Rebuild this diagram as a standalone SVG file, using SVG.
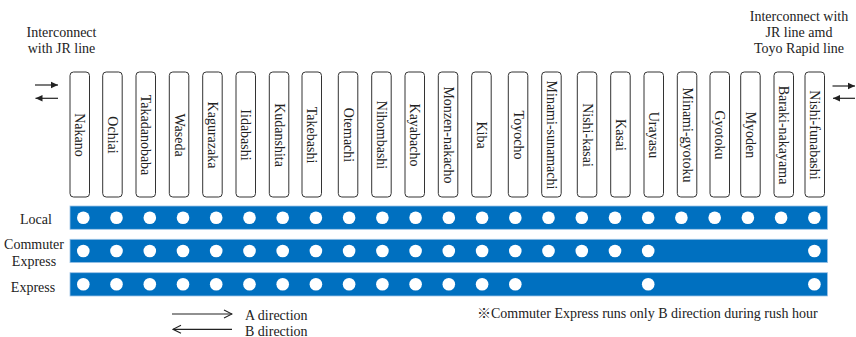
<svg xmlns="http://www.w3.org/2000/svg" width="856" height="337" viewBox="0 0 856 337">
<style>
text{font-family:"Liberation Serif","Noto Sans CJK JP",serif;font-size:14px;fill:#222}
.box{fill:#fff;stroke:#333;stroke-width:1}
.st{text-anchor:middle;dominant-baseline:central}
.band{fill:#0070C0;stroke:#9DC3E6;stroke-width:0.8}
.dot{fill:#fff}
.ln{stroke:#222;stroke-width:1.2;fill:none}
.mid{text-anchor:middle}
</style>
<defs>
<marker id="ah" markerWidth="8" markerHeight="8" refX="7" refY="4" orient="auto" markerUnits="userSpaceOnUse">
<path d="M0,0.8 L7,4 L0,7.2 Z" fill="#222"/>
</marker>
<marker id="oh" markerWidth="10" markerHeight="10" refX="9" refY="5" orient="auto" markerUnits="userSpaceOnUse">
<path d="M1,1 L9,5 L1,9" fill="none" stroke="#222" stroke-width="1.1"/>
</marker>
</defs>
<rect width="856" height="337" fill="#fff"/>

<g id="label-left">
<text class="mid" x="61.5" y="36.7">Interconnect</text>
<text class="mid" x="61.5" y="52.7">with JR line</text>
</g>
<g id="label-right">
<text class="mid" x="799" y="20.5">Interconnect with</text>
<text class="mid" x="799" y="36.5">JR line amd</text>
<text class="mid" x="799" y="52.5">Toyo Rapid line</text>
</g>

<g id="connectors">
<line class="ln" x1="35" y1="85" x2="58" y2="85" marker-end="url(#ah)"/>
<line class="ln" x1="58" y1="98.3" x2="35.5" y2="98.3" marker-end="url(#ah)"/>
<line class="ln" x1="832.5" y1="86" x2="855" y2="86" marker-end="url(#ah)"/>
<line class="ln" x1="855" y1="98.3" x2="833" y2="98.3" marker-end="url(#ah)"/>
<line class="ln" x1="172" y1="314" x2="232" y2="314" marker-end="url(#oh)"/>
<line class="ln" x1="232" y1="329.3" x2="173" y2="329.3" marker-end="url(#oh)"/>
</g>

<g id="stations">
<g id="st-nakano"><rect class="box" x="70" y="72" width="19.5" height="125" rx="3.5"/><text class="st" transform="translate(79.75,135) rotate(90)">Nakano</text></g>
<g id="st-ochiai"><rect class="box" x="102.7" y="72" width="19.5" height="125" rx="3.5"/><text class="st" transform="translate(112.45,135) rotate(90)">Ochiai</text></g>
<g id="st-takadanobaba"><rect class="box" x="136" y="72" width="19.5" height="125" rx="3.5"/><text class="st" transform="translate(145.75,135) rotate(90)">Takadanobaba</text></g>
<g id="st-waseda"><rect class="box" x="169.3" y="72" width="19.5" height="125" rx="3.5"/><text class="st" transform="translate(179.05,135) rotate(90)">Waseda</text></g>
<g id="st-kagurazaka"><rect class="box" x="202.7" y="72" width="19.5" height="125" rx="3.5"/><text class="st" transform="translate(212.45,135) rotate(90)">Kagurazaka</text></g>
<g id="st-iidabashi"><rect class="box" x="236" y="72" width="19.5" height="125" rx="3.5"/><text class="st" transform="translate(245.75,135) rotate(90)">Iidabashi</text></g>
<g id="st-kudanshita"><rect class="box" x="269.3" y="72" width="19.5" height="125" rx="3.5"/><text class="st" transform="translate(279.05,135) rotate(90)">Kudanshita</text></g>
<g id="st-takebashi"><rect class="box" x="302" y="72" width="19.5" height="125" rx="3.5"/><text class="st" transform="translate(311.75,135) rotate(90)">Takebashi</text></g>
<g id="st-otemachi"><rect class="box" x="338.3" y="72" width="19.5" height="125" rx="3.5"/><text class="st" transform="translate(348.05,135) rotate(90)">Otemachi</text></g>
<g id="st-nihombashi"><rect class="box" x="371.7" y="72" width="19.5" height="125" rx="3.5"/><text class="st" transform="translate(381.45,135) rotate(90)">Nihombashi</text></g>
<g id="st-kayabacho"><rect class="box" x="405" y="72" width="19.5" height="125" rx="3.5"/><text class="st" transform="translate(414.75,135) rotate(90)">Kayabacho</text></g>
<g id="st-monzen-nakacho"><rect class="box" x="438.3" y="72" width="19.5" height="125" rx="3.5"/><text class="st" transform="translate(448.05,135) rotate(90)">Monzen-nakacho</text></g>
<g id="st-kiba"><rect class="box" x="471.7" y="72" width="19.5" height="125" rx="3.5"/><text class="st" transform="translate(481.45,135) rotate(90)">Kiba</text></g>
<g id="st-toyocho"><rect class="box" x="508.3" y="72" width="19.5" height="125" rx="3.5"/><text class="st" transform="translate(518.05,135) rotate(90)">Toyocho</text></g>
<g id="st-minami-sunamachi"><rect class="box" x="541.7" y="72" width="19.5" height="125" rx="3.5"/><text class="st" transform="translate(551.45,135) rotate(90)">Minami-sunamachi</text></g>
<g id="st-nishi-kasai"><rect class="box" x="577.3" y="72" width="19.5" height="125" rx="3.5"/><text class="st" transform="translate(587.05,135) rotate(90)">Nishi-kasai</text></g>
<g id="st-kasai"><rect class="box" x="610.7" y="72" width="19.5" height="125" rx="3.5"/><text class="st" transform="translate(620.45,135) rotate(90)">Kasai</text></g>
<g id="st-urayasu"><rect class="box" x="644" y="72" width="19.5" height="125" rx="3.5"/><text class="st" transform="translate(653.75,135) rotate(90)">Urayasu</text></g>
<g id="st-minami-gyotoku"><rect class="box" x="677.3" y="72" width="19.5" height="125" rx="3.5"/><text class="st" transform="translate(687.05,135) rotate(90)">Minami-gyotoku</text></g>
<g id="st-gyotoku"><rect class="box" x="710" y="72" width="19.5" height="125" rx="3.5"/><text class="st" transform="translate(719.75,135) rotate(90)">Gyotoku</text></g>
<g id="st-myoden"><rect class="box" x="740.7" y="72" width="19.5" height="125" rx="3.5"/><text class="st" transform="translate(750.45,135) rotate(90)">Myoden</text></g>
<g id="st-baraki-nakayama"><rect class="box" x="774" y="72" width="19.5" height="125" rx="3.5"/><text class="st" transform="translate(783.75,135) rotate(90)">Baraki-nakayama</text></g>
<g id="st-nishi-funabashi"><rect class="box" x="805" y="72" width="19.5" height="125" rx="3.5"/><text class="st" transform="translate(814.75,135) rotate(90)">Nishi-funabashi</text></g>
</g>

<g id="row-local">
<text class="mid" x="36" y="223.5">Local</text>
<rect class="band" x="70" y="206" width="757.5" height="23.3"/>
<g class="dot">
<circle cx="83.3" cy="217.7" r="6.3"/><circle cx="116.5" cy="217.7" r="6.3"/><circle cx="149.8" cy="217.7" r="6.3"/><circle cx="183" cy="217.7" r="6.3"/><circle cx="216.2" cy="217.7" r="6.3"/><circle cx="249.5" cy="217.7" r="6.3"/><circle cx="282.7" cy="217.7" r="6.3"/><circle cx="315.9" cy="217.7" r="6.3"/><circle cx="349.1" cy="217.7" r="6.3"/><circle cx="382.4" cy="217.7" r="6.3"/><circle cx="415.6" cy="217.7" r="6.3"/><circle cx="448.8" cy="217.7" r="6.3"/><circle cx="482.1" cy="217.7" r="6.3"/><circle cx="515.3" cy="217.7" r="6.3"/><circle cx="548.5" cy="217.7" r="6.3"/><circle cx="581.8" cy="217.7" r="6.3"/><circle cx="615" cy="217.7" r="6.3"/><circle cx="648.2" cy="217.7" r="6.3"/><circle cx="681.4" cy="217.7" r="6.3"/><circle cx="714.7" cy="217.7" r="6.3"/><circle cx="747.9" cy="217.7" r="6.3"/><circle cx="781.1" cy="217.7" r="6.3"/><circle cx="814.4" cy="217.7" r="6.3"/>
</g>
</g>

<g id="row-commuter">
<text class="mid" x="34" y="249.3">Commuter</text>
<text class="mid" x="34" y="265.7">Express</text>
<rect class="band" x="70" y="239.3" width="757.5" height="23.3"/>
<g class="dot">
<circle cx="83.3" cy="251" r="6.3"/><circle cx="116.5" cy="251" r="6.3"/><circle cx="149.8" cy="251" r="6.3"/><circle cx="183" cy="251" r="6.3"/><circle cx="216.2" cy="251" r="6.3"/><circle cx="249.5" cy="251" r="6.3"/><circle cx="282.7" cy="251" r="6.3"/><circle cx="315.9" cy="251" r="6.3"/><circle cx="349.1" cy="251" r="6.3"/><circle cx="382.4" cy="251" r="6.3"/><circle cx="415.6" cy="251" r="6.3"/><circle cx="448.8" cy="251" r="6.3"/><circle cx="482.1" cy="251" r="6.3"/><circle cx="515.3" cy="251" r="6.3"/><circle cx="548.5" cy="251" r="6.3"/><circle cx="581.8" cy="251" r="6.3"/><circle cx="615" cy="251" r="6.3"/><circle cx="648.2" cy="251" r="6.3"/><circle cx="814.4" cy="251" r="6.3"/>
</g>
</g>

<g id="row-express">
<text class="mid" x="33" y="291.7">Express</text>
<rect class="band" x="70" y="272.7" width="757.5" height="23.3"/>
<g class="dot">
<circle cx="83.3" cy="284.3" r="6.3"/><circle cx="116.5" cy="284.3" r="6.3"/><circle cx="149.8" cy="284.3" r="6.3"/><circle cx="183" cy="284.3" r="6.3"/><circle cx="216.2" cy="284.3" r="6.3"/><circle cx="249.5" cy="284.3" r="6.3"/><circle cx="282.7" cy="284.3" r="6.3"/><circle cx="315.9" cy="284.3" r="6.3"/><circle cx="349.1" cy="284.3" r="6.3"/><circle cx="382.4" cy="284.3" r="6.3"/><circle cx="415.6" cy="284.3" r="6.3"/><circle cx="448.8" cy="284.3" r="6.3"/><circle cx="482.1" cy="284.3" r="6.3"/><circle cx="515.3" cy="284.3" r="6.3"/><circle cx="648.2" cy="284.3" r="6.3"/><circle cx="814.4" cy="284.3" r="6.3"/>
</g>
</g>

<g id="legend">
<text x="245" y="320">A direction</text>
<text x="245" y="335.5">B direction</text>
<text x="477" y="318">※Commuter Express runs only B direction during rush hour</text>
</g>
</svg>
